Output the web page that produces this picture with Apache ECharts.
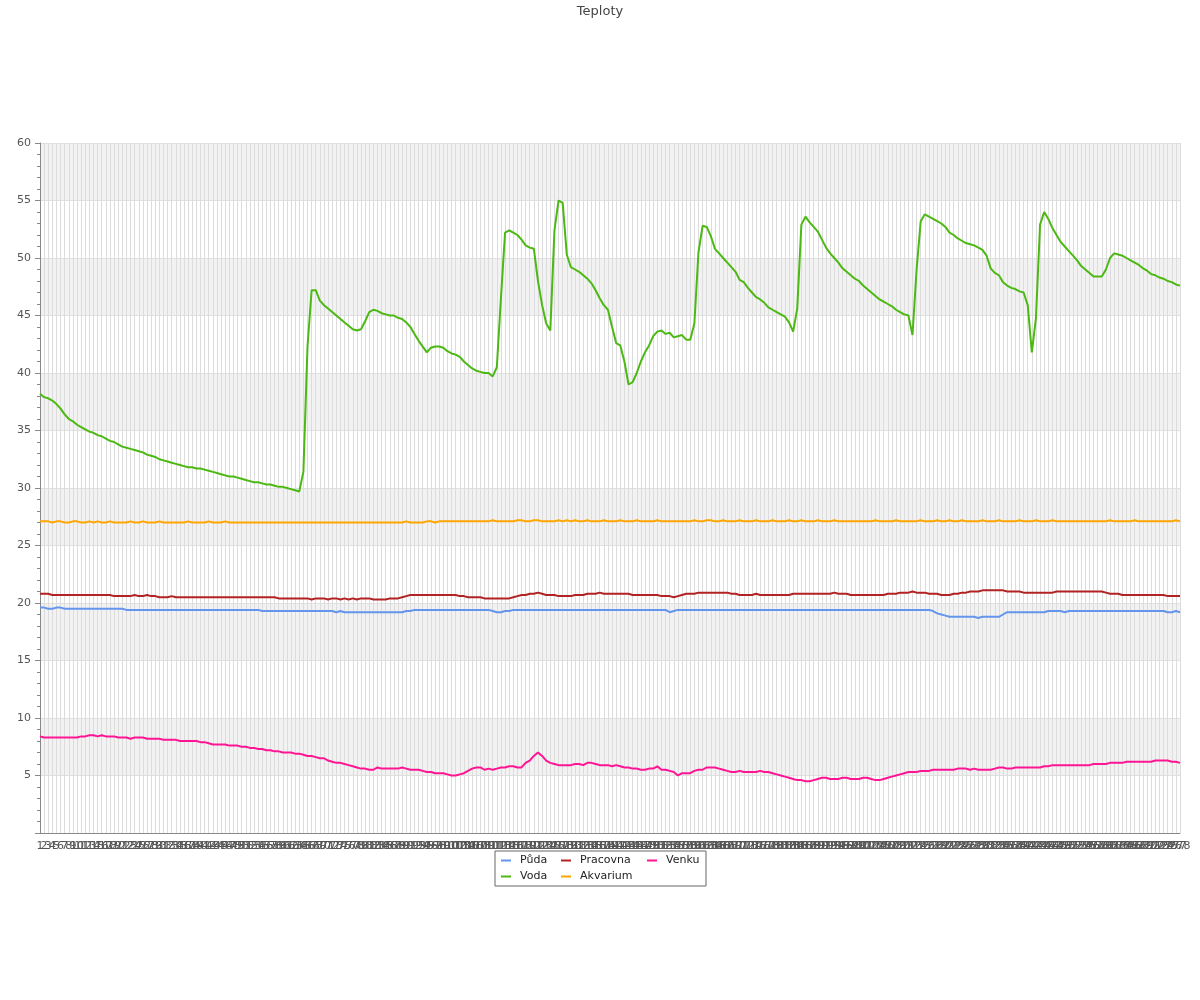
<!DOCTYPE html>
<html>
<head>
<meta charset="utf-8">
<script src="https://cdn.jsdelivr.net/npm/echarts@6/dist/echarts.min.js"></script>
<style>html,body{margin:0;padding:0;background:#fff;}#c{width:1200px;height:1000px;}</style>
</head>
<body>
<div id="c"></div>
<script>
const categories = Array.from({length: 278}, (_, i) => String(i + 1));

const puda = [
19.6,19.6,19.5,19.5,19.6,19.6,19.5,19.5,19.5,19.5,
19.5,19.5,19.5,19.5,19.5,19.5,19.5,19.5,19.5,19.5,
19.5,19.4,19.4,19.4,19.4,19.4,19.4,19.4,19.4,19.4,
19.4,19.4,19.4,19.4,19.4,19.4,19.4,19.4,19.4,19.4,
19.4,19.4,19.4,19.4,19.4,19.4,19.4,19.4,19.4,19.4,
19.4,19.4,19.4,19.4,19.3,19.3,19.3,19.3,19.3,19.3,
19.3,19.3,19.3,19.3,19.3,19.3,19.3,19.3,19.3,19.3,
19.3,19.3,19.2,19.3,19.2,19.2,19.2,19.2,19.2,19.2,
19.2,19.2,19.2,19.2,19.2,19.2,19.2,19.2,19.2,19.3,
19.3,19.4,19.4,19.4,19.4,19.4,19.4,19.4,19.4,19.4,
19.4,19.4,19.4,19.4,19.4,19.4,19.4,19.4,19.4,19.4,
19.3,19.2,19.2,19.3,19.3,19.4,19.4,19.4,19.4,19.4,
19.4,19.4,19.4,19.4,19.4,19.4,19.4,19.4,19.4,19.4,
19.4,19.4,19.4,19.4,19.4,19.4,19.4,19.4,19.4,19.4,
19.4,19.4,19.4,19.4,19.4,19.4,19.4,19.4,19.4,19.4,
19.4,19.4,19.4,19.2,19.3,19.4,19.4,19.4,19.4,19.4,
19.4,19.4,19.4,19.4,19.4,19.4,19.4,19.4,19.4,19.4,
19.4,19.4,19.4,19.4,19.4,19.4,19.4,19.4,19.4,19.4,
19.4,19.4,19.4,19.4,19.4,19.4,19.4,19.4,19.4,19.4,
19.4,19.4,19.4,19.4,19.4,19.4,19.4,19.4,19.4,19.4,
19.4,19.4,19.4,19.4,19.4,19.4,19.4,19.4,19.4,19.4,
19.4,19.4,19.4,19.4,19.4,19.4,19.4,19.3,19.1,19.0,
18.9,18.8,18.8,18.8,18.8,18.8,18.8,18.8,18.7,18.8,
18.8,18.8,18.8,18.8,19.0,19.2,19.2,19.2,19.2,19.2,
19.2,19.2,19.2,19.2,19.2,19.3,19.3,19.3,19.3,19.2,
19.3,19.3,19.3,19.3,19.3,19.3,19.3,19.3,19.3,19.3,
19.3,19.3,19.3,19.3,19.3,19.3,19.3,19.3,19.3,19.3,
19.3,19.3,19.3,19.3,19.2,19.2,19.3,19.2
];

const voda = [
38.2,37.9,37.8,37.6,37.3,36.9,36.4,36.0,35.8,35.5,
35.3,35.1,34.9,34.8,34.6,34.5,34.3,34.1,34.0,33.8,
33.6,33.5,33.4,33.3,33.2,33.1,32.9,32.8,32.7,32.5,
32.4,32.3,32.2,32.1,32.0,31.9,31.8,31.8,31.7,31.7,
31.6,31.5,31.4,31.3,31.2,31.1,31.0,31.0,30.9,30.8,
30.7,30.6,30.5,30.5,30.4,30.3,30.3,30.2,30.1,30.1,
30.0,29.9,29.8,29.7,31.4,42.3,47.2,47.2,46.3,45.9,
45.6,45.3,45.0,44.7,44.4,44.1,43.8,43.7,43.8,44.5,
45.3,45.5,45.4,45.2,45.1,45.0,45.0,44.8,44.7,44.4,
44.0,43.4,42.8,42.3,41.8,42.2,42.3,42.3,42.2,41.9,
41.7,41.6,41.4,41.0,40.7,40.4,40.2,40.1,40.0,40.0,
39.7,40.5,46.5,52.2,52.4,52.2,52.0,51.6,51.1,50.9,
50.8,48.0,45.9,44.3,43.7,52.4,55.0,54.8,50.3,49.2,
49.0,48.8,48.5,48.2,47.8,47.2,46.5,45.9,45.5,44.0,
42.6,42.4,41.0,39.0,39.2,40.0,41.0,41.8,42.4,43.2,
43.6,43.7,43.4,43.5,43.1,43.2,43.3,42.9,42.9,44.3,
50.5,52.8,52.7,51.9,50.8,50.4,50.0,49.6,49.2,48.8,
48.1,47.9,47.4,47.0,46.6,46.4,46.1,45.7,45.5,45.3,
45.1,44.9,44.4,43.6,45.6,52.9,53.6,53.1,52.7,52.3,
51.6,50.9,50.4,50.0,49.6,49.1,48.8,48.5,48.2,48.0,
47.6,47.3,47.0,46.7,46.4,46.2,46.0,45.8,45.5,45.3,
45.1,45.0,43.3,49.0,53.2,53.8,53.6,53.4,53.2,53.0,
52.7,52.2,52.0,51.7,51.5,51.3,51.2,51.1,50.9,50.7,
50.2,49.1,48.7,48.5,47.9,47.6,47.4,47.3,47.1,47.0,
45.9,41.8,44.8,52.9,54.0,53.4,52.6,52.0,51.4,51.0,
50.6,50.2,49.8,49.3,49.0,48.7,48.4,48.4,48.4,49.0,
50.0,50.4,50.3,50.2,50.0,49.8,49.6,49.4,49.1,48.9,
48.6,48.5,48.3,48.2,48.0,47.9,47.7,47.6
];

const pracovna = [
20.8,20.8,20.8,20.7,20.7,20.7,20.7,20.7,20.7,20.7,
20.7,20.7,20.7,20.7,20.7,20.7,20.7,20.7,20.6,20.6,
20.6,20.6,20.6,20.7,20.6,20.6,20.7,20.6,20.6,20.5,
20.5,20.5,20.6,20.5,20.5,20.5,20.5,20.5,20.5,20.5,
20.5,20.5,20.5,20.5,20.5,20.5,20.5,20.5,20.5,20.5,
20.5,20.5,20.5,20.5,20.5,20.5,20.5,20.5,20.4,20.4,
20.4,20.4,20.4,20.4,20.4,20.4,20.3,20.4,20.4,20.4,
20.3,20.4,20.4,20.3,20.4,20.3,20.4,20.3,20.4,20.4,
20.4,20.3,20.3,20.3,20.3,20.4,20.4,20.4,20.5,20.6,
20.7,20.7,20.7,20.7,20.7,20.7,20.7,20.7,20.7,20.7,
20.7,20.7,20.6,20.6,20.5,20.5,20.5,20.5,20.4,20.4,
20.4,20.4,20.4,20.4,20.4,20.5,20.6,20.7,20.7,20.8,
20.8,20.9,20.8,20.7,20.7,20.7,20.6,20.6,20.6,20.6,
20.7,20.7,20.7,20.8,20.8,20.8,20.9,20.8,20.8,20.8,
20.8,20.8,20.8,20.8,20.7,20.7,20.7,20.7,20.7,20.7,
20.7,20.6,20.6,20.6,20.5,20.6,20.7,20.8,20.8,20.8,
20.9,20.9,20.9,20.9,20.9,20.9,20.9,20.9,20.8,20.8,
20.7,20.7,20.7,20.7,20.8,20.7,20.7,20.7,20.7,20.7,
20.7,20.7,20.7,20.8,20.8,20.8,20.8,20.8,20.8,20.8,
20.8,20.8,20.8,20.9,20.8,20.8,20.8,20.7,20.7,20.7,
20.7,20.7,20.7,20.7,20.7,20.7,20.8,20.8,20.8,20.9,
20.9,20.9,21.0,20.9,20.9,20.9,20.8,20.8,20.8,20.7,
20.7,20.7,20.8,20.8,20.9,20.9,21.0,21.0,21.0,21.1,
21.1,21.1,21.1,21.1,21.1,21.0,21.0,21.0,21.0,20.9,
20.9,20.9,20.9,20.9,20.9,20.9,20.9,21.0,21.0,21.0,
21.0,21.0,21.0,21.0,21.0,21.0,21.0,21.0,21.0,20.9,
20.8,20.8,20.8,20.7,20.7,20.7,20.7,20.7,20.7,20.7,
20.7,20.7,20.7,20.7,20.6,20.6,20.6,20.6
];

const akvarium = [
27.1,27.1,27.1,27.0,27.1,27.1,27.0,27.0,27.1,27.1,
27.0,27.0,27.1,27.0,27.1,27.0,27.0,27.1,27.0,27.0,
27.0,27.0,27.1,27.0,27.0,27.1,27.0,27.0,27.0,27.1,
27.0,27.0,27.0,27.0,27.0,27.0,27.1,27.0,27.0,27.0,
27.0,27.1,27.0,27.0,27.0,27.1,27.0,27.0,27.0,27.0,
27.0,27.0,27.0,27.0,27.0,27.0,27.0,27.0,27.0,27.0,
27.0,27.0,27.0,27.0,27.0,27.0,27.0,27.0,27.0,27.0,
27.0,27.0,27.0,27.0,27.0,27.0,27.0,27.0,27.0,27.0,
27.0,27.0,27.0,27.0,27.0,27.0,27.0,27.0,27.0,27.1,
27.0,27.0,27.0,27.0,27.1,27.1,27.0,27.1,27.1,27.1,
27.1,27.1,27.1,27.1,27.1,27.1,27.1,27.1,27.1,27.1,
27.2,27.1,27.1,27.1,27.1,27.1,27.2,27.2,27.1,27.1,
27.2,27.2,27.1,27.1,27.1,27.1,27.2,27.1,27.2,27.1,
27.2,27.1,27.1,27.2,27.1,27.1,27.1,27.2,27.1,27.1,
27.1,27.2,27.1,27.1,27.1,27.2,27.1,27.1,27.1,27.1,
27.2,27.1,27.1,27.1,27.1,27.1,27.1,27.1,27.1,27.2,
27.1,27.1,27.2,27.2,27.1,27.1,27.2,27.1,27.1,27.1,
27.2,27.1,27.1,27.1,27.2,27.1,27.1,27.1,27.2,27.1,
27.1,27.1,27.2,27.1,27.1,27.2,27.1,27.1,27.1,27.2,
27.1,27.1,27.1,27.2,27.1,27.1,27.1,27.1,27.1,27.1,
27.1,27.1,27.1,27.2,27.1,27.1,27.1,27.1,27.2,27.1,
27.1,27.1,27.1,27.1,27.2,27.1,27.1,27.1,27.2,27.1,
27.1,27.2,27.1,27.1,27.2,27.1,27.1,27.1,27.1,27.2,
27.1,27.1,27.1,27.2,27.1,27.1,27.1,27.1,27.2,27.1,
27.1,27.1,27.2,27.1,27.1,27.1,27.2,27.1,27.1,27.1,
27.1,27.1,27.1,27.1,27.1,27.1,27.1,27.1,27.1,27.1,
27.2,27.1,27.1,27.1,27.1,27.1,27.2,27.1,27.1,27.1,
27.1,27.1,27.1,27.1,27.1,27.1,27.2,27.1
];

const venku = [
8.4,8.3,8.3,8.3,8.3,8.3,8.3,8.3,8.3,8.3,
8.4,8.4,8.5,8.5,8.4,8.5,8.4,8.4,8.4,8.3,
8.3,8.3,8.2,8.3,8.3,8.3,8.2,8.2,8.2,8.2,
8.1,8.1,8.1,8.1,8.0,8.0,8.0,8.0,8.0,7.9,
7.9,7.8,7.7,7.7,7.7,7.7,7.6,7.6,7.6,7.5,
7.5,7.4,7.4,7.3,7.3,7.2,7.2,7.1,7.1,7.0,
7.0,7.0,6.9,6.9,6.8,6.7,6.7,6.6,6.5,6.5,
6.3,6.2,6.1,6.1,6.0,5.9,5.8,5.7,5.6,5.6,
5.5,5.5,5.7,5.6,5.6,5.6,5.6,5.6,5.7,5.6,
5.5,5.5,5.5,5.4,5.3,5.3,5.2,5.2,5.2,5.1,
5.0,5.0,5.1,5.2,5.4,5.6,5.7,5.7,5.5,5.6,
5.5,5.6,5.7,5.7,5.8,5.8,5.7,5.7,6.1,6.3,
6.7,7.0,6.7,6.3,6.1,6.0,5.9,5.9,5.9,5.9,
6.0,6.0,5.9,6.1,6.1,6.0,5.9,5.9,5.9,5.8,
5.9,5.8,5.7,5.7,5.6,5.6,5.5,5.5,5.6,5.6,
5.8,5.5,5.5,5.4,5.3,5.0,5.2,5.2,5.2,5.4,
5.5,5.5,5.7,5.7,5.7,5.6,5.5,5.4,5.3,5.3,
5.4,5.3,5.3,5.3,5.3,5.4,5.3,5.3,5.2,5.1,
5.0,4.9,4.8,4.7,4.6,4.6,4.5,4.5,4.6,4.7,
4.8,4.8,4.7,4.7,4.7,4.8,4.8,4.7,4.7,4.7,
4.8,4.8,4.7,4.6,4.6,4.7,4.8,4.9,5.0,5.1,
5.2,5.3,5.3,5.3,5.4,5.4,5.4,5.5,5.5,5.5,
5.5,5.5,5.5,5.6,5.6,5.6,5.5,5.6,5.5,5.5,
5.5,5.5,5.6,5.7,5.7,5.6,5.6,5.7,5.7,5.7,
5.7,5.7,5.7,5.7,5.8,5.8,5.9,5.9,5.9,5.9,
5.9,5.9,5.9,5.9,5.9,5.9,6.0,6.0,6.0,6.0,
6.1,6.1,6.1,6.1,6.2,6.2,6.2,6.2,6.2,6.2,
6.2,6.3,6.3,6.3,6.3,6.2,6.2,6.1
];

const seriesNames = ['Půda', 'Pracovna', 'Venku', 'Voda', 'Akvarium'];
const seriesColors = ['#6495ED', '#B22222', '#FF1493', '#4CB812', '#FFA500'];
const seriesData = [puda, pracovna, venku, voda, akvarium];
const yTicks = { min: 0, max: 60, interval: 5 };

const FONT = 'DejaVu Sans';
const chart = echarts.init(document.getElementById('c'), null, { renderer: 'canvas' });

// legend column text widths (layout only)
const colTextWidth = [38, 64, 35, 38, 64];

chart.setOption({
  animation: false,
  backgroundColor: '#fff',
  textStyle: { fontFamily: FONT },
  title: {
    text: 'Teploty',
    left: 'center',
    top: 0,
    textStyle: { fontFamily: FONT, fontSize: 13, fontWeight: 'normal', color: '#444' }
  },
  legend: {
    data: seriesNames.map((n, k) => ({
      name: n,
      textStyle: { width: colTextWidth[k], padding: [0, 0, 0, 4], fontFamily: FONT, fontSize: 11, color: '#222', lineHeight: 13 }
    })),
    left: 495,
    top: 851,
    width: 202,
    orient: 'horizontal',
    itemGap: 3,
    itemWidth: 10,
    itemHeight: 2,
    icon: 'rect',
    padding: [3, 5, 3, 6],
    borderColor: '#666',
    borderWidth: 1,
    textStyle: { fontFamily: FONT, fontSize: 11, color: '#222', lineHeight: 13 }
  },
  grid: { left: 40, right: 20, top: 143, bottom: 167, containLabel: false },
  xAxis: {
    type: 'category',
    data: categories,
    boundaryGap: false,
    axisLine: { show: true, lineStyle: { color: '#888', width: 1 } },
    axisTick: { show: false },
    axisLabel: { interval: 0, fontFamily: FONT, fontSize: 11, color: '#555', margin: 8 },
    splitLine: { show: true, interval: 0, lineStyle: { color: '#dcdcdc', width: 1 } }
  },
  yAxis: {
    type: 'value',
    min: yTicks.min,
    max: yTicks.max,
    interval: yTicks.interval,
    axisLine: { show: true, lineStyle: { color: '#888', width: 1 } },
    axisTick: { show: true, inside: false, length: 5, lineStyle: { color: '#888' } },
    minorTick: { show: true, splitNumber: 5, length: 3, lineStyle: { color: '#888' } },
    axisLabel: { fontFamily: FONT, fontSize: 11, color: '#555', margin: 9, showMinLabel: false },
    splitLine: { show: true, lineStyle: { color: '#e0e0e0', width: 1 } },
    splitArea: { show: true, areaStyle: { color: ['rgba(255,255,255,0)', '#f2f2f2'] } }
  },
  series: seriesNames.map((n, k) => ({
    name: n,
    type: 'line',
    data: seriesData[k],
    showSymbol: false,
    symbol: 'none',
    color: seriesColors[k],
    lineStyle: { color: seriesColors[k], width: 2 },
    emphasis: { disabled: true }
  }))
});
</script>
</body>
</html>
